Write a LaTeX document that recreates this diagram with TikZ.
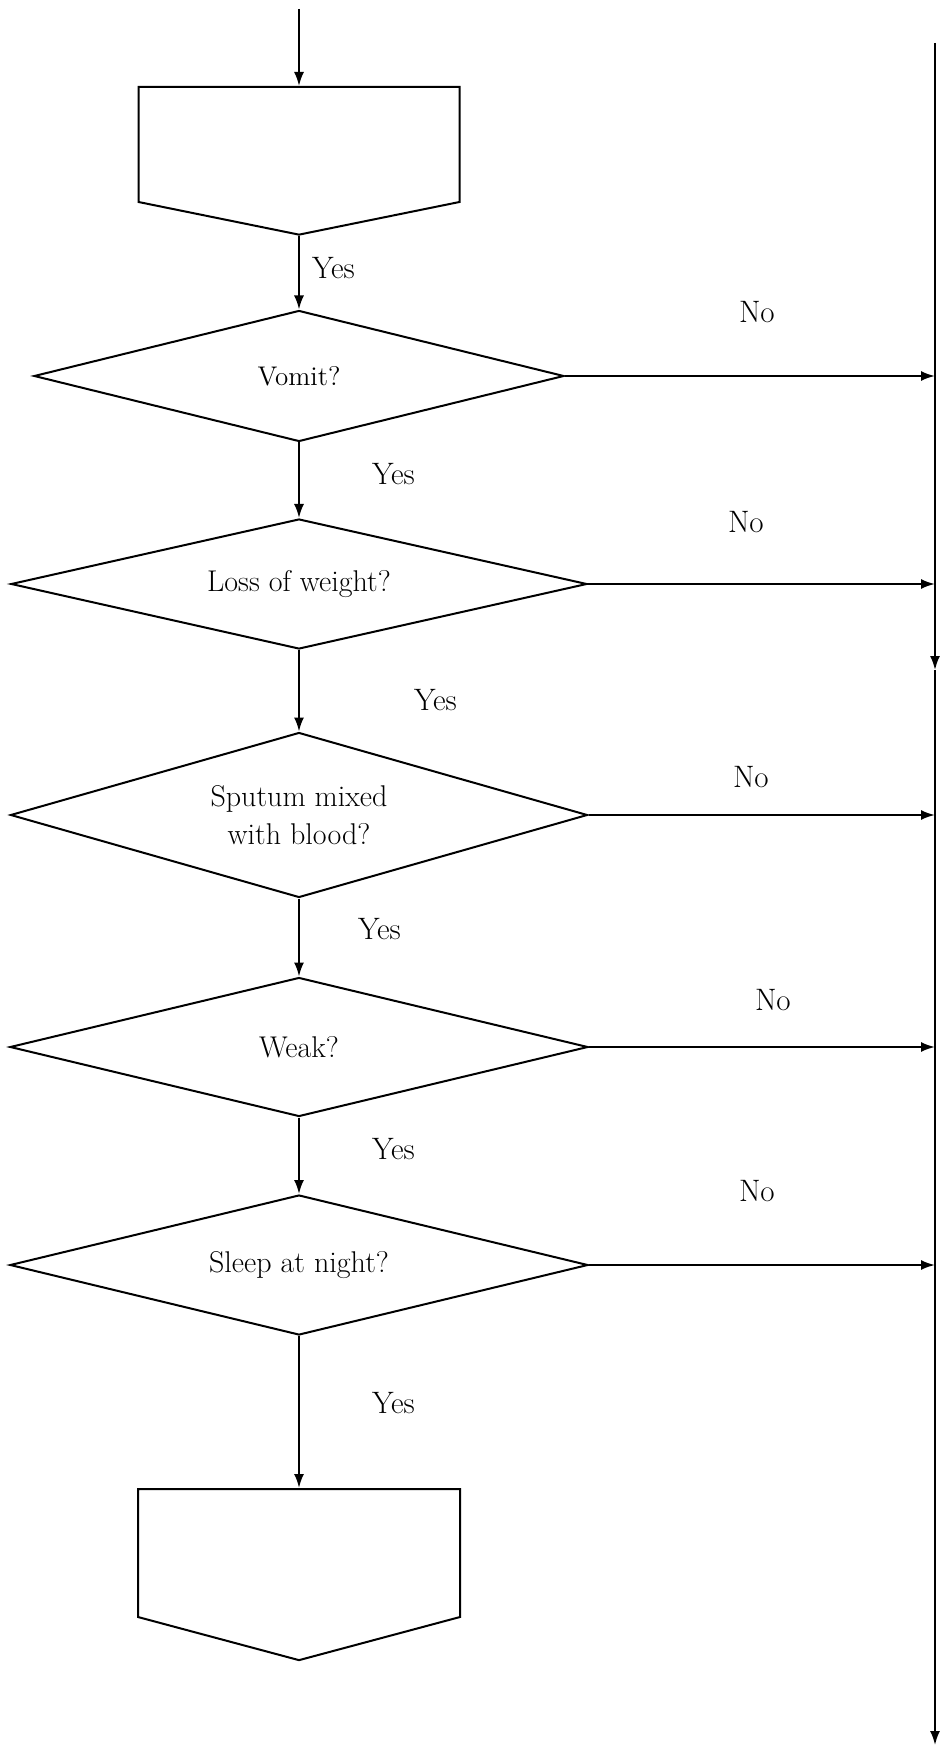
\documentclass[tikz,border=0pt]{standalone}
\usetikzlibrary{shapes.geometric}
\usetikzlibrary{shapes.symbols}
\usetikzlibrary{arrows.meta}

\begin{document}
\begin{tikzpicture}[x=0.5pt, y=-0.5pt, line width=1pt, >={Latex[length=7pt,width=5pt]},
		decision/.style={draw, diamond, inner sep=0pt, align=center, font=\fontsize{15}{19}\selectfont},
		offpage/.style={draw, signal, signal to=south, inner sep=0pt, anchor=north},
		answer/.style={inner sep=0pt, anchor=west, font=\fontsize{15.5}{18}\selectfont}]
			\def \cx {299}
			\def \rx {935}

			\useasboundingbox (0,0) rectangle (939,1748);

			\coordinate (start) at (\cx,9);
			\coordinate (vtop) at (\rx,43);
			\coordinate (vmid) at (\rx,670);
			\coordinate (vbot) at (\rx,1745);

			\node[offpage, signal pointer angle=157, minimum width=160.5pt, minimum height=57.5pt] (box1) at (\cx,86) {};
			\node[decision, aspect=4, minimum width=265pt, minimum height=65.5pt, font=\fontsize{13.5}{16}\selectfont] (d1) at (\cx,376) {Vomit?};
			\node[decision, aspect=4.4, minimum width=288pt, minimum height=65pt] (d2) at (\cx,584) {Loss of weight?};
			\node[decision, aspect=3.5, minimum width=288.5pt, minimum height=82.5pt] (d3) at (\cx,815) {Sputum mixed\\with blood?};
			\node[decision, aspect=4.2, minimum width=289pt, minimum height=69.5pt] (d4) at (\cx,1047) {Weak?};
			\node[decision, aspect=4.1, minimum width=289pt, minimum height=70pt] (d5) at (\cx,1265) {Sleep at night?};
			\node[offpage, signal pointer angle=150, minimum width=161pt, minimum height=64pt] (box2) at (\cx,1488) {};

			\draw[->] (start) -- (box1.north);
			\foreach \a/\b in {box1/d1, d1/d2, d2/d3, d3/d4, d4/d5} {
				\draw[->] (\a.south) -- (\b.north);
			}
			\draw[->] (d5.south) -- (box2.north);

			\foreach \s in {1,...,5} {
				\draw[->] (d\s.east) -- (d\s.east -| vtop);
			}
			\draw[->] (vtop) -- (vmid);
			\draw[->] (vmid) -- (vbot);

			\node[answer] (y1) at (311,268) {Yes};
			\node[answer] (y2) at (371,474) {Yes};
			\node[answer] (y3) at (413,700) {Yes};
			\node[answer] (y4) at (357,929) {Yes};
			\node[answer] (y5) at (371,1149) {Yes};
			\node[answer] (y6) at (371,1403) {Yes};

			\node[answer] (n1) at (738,312) {No};
			\node[answer] (n2) at (727,522) {No};
			\node[answer] (n3) at (732,777) {No};
			\node[answer] (n4) at (754,1000) {No};
			\node[answer] (n5) at (738,1191) {No};
		\end{tikzpicture}
\end{document}
